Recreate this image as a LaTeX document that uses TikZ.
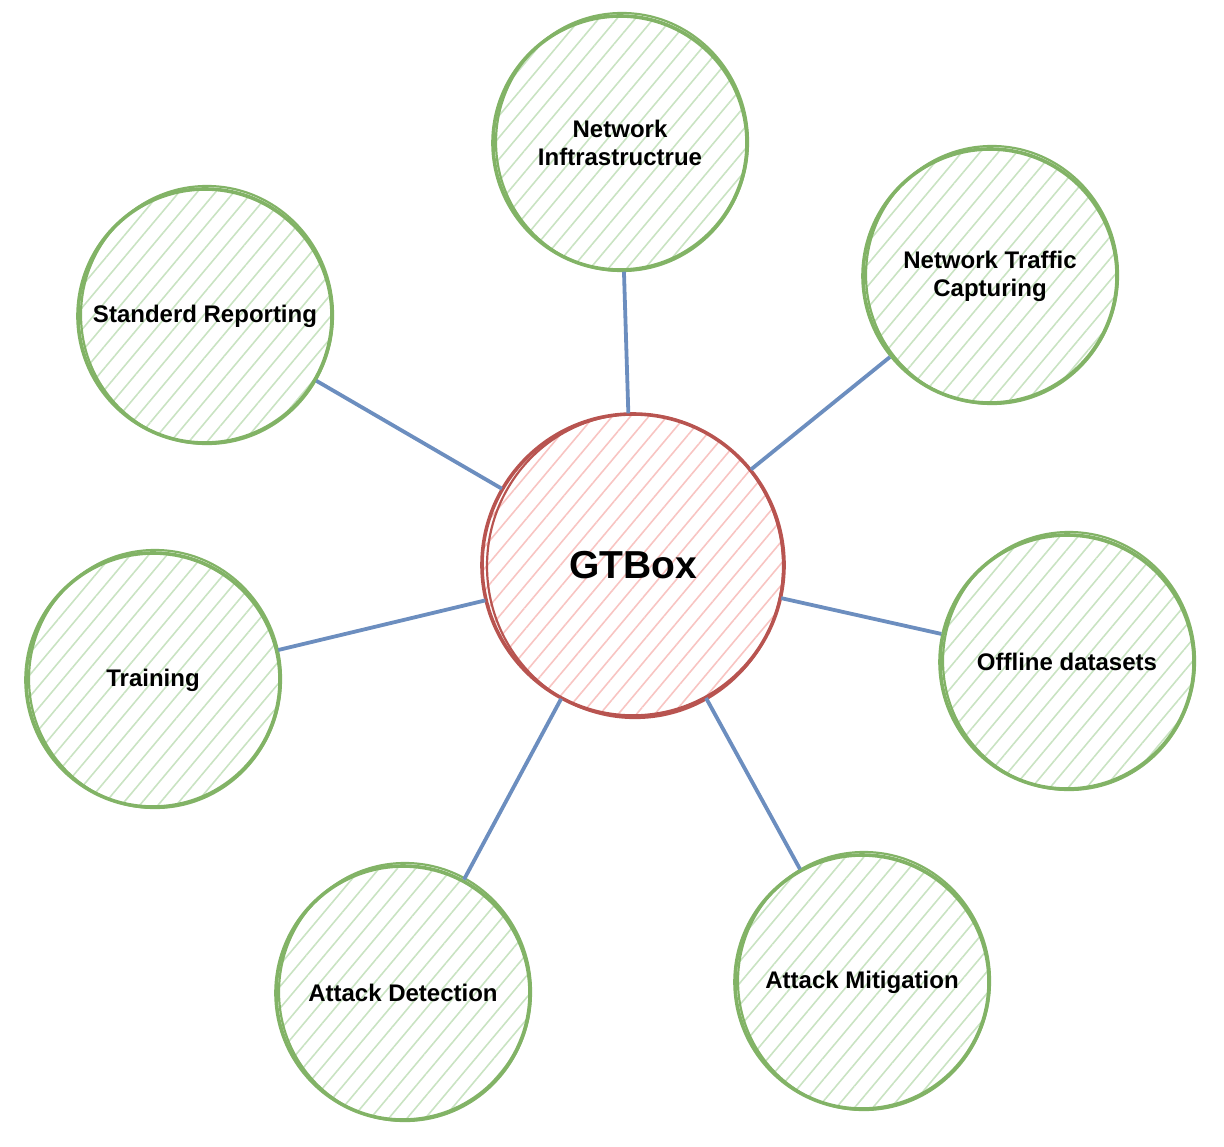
\documentclass[tikz,border=0pt]{standalone}
\usepackage{xcolor}
\usepackage{fontspec}
\setmainfont{Liberation Sans}
\usetikzlibrary{patterns.meta}

\definecolor{leafgreen}{HTML}{82B366}
\definecolor{hatchgreen}{HTML}{C9E3C2}
\definecolor{hubred}{HTML}{B85450}
\definecolor{hatchred}{HTML}{F8C4C2}
\definecolor{linkblue}{HTML}{6C8EBF}

\begin{document}
\begin{tikzpicture}[x=0.5pt, y=-0.5pt,
    leaf/.style={circle, minimum size=127pt, inner sep=1pt, draw=leafgreen, line width=1.8pt,
        pattern={Lines[angle=50, distance=7pt, line width=0.8pt]}, pattern color=hatchgreen,
        align=center, font=\bfseries\fontsize{12}{14}\selectfont},
    hub/.style={circle, minimum size=151pt, inner sep=1pt, draw=hubred, line width=1.8pt,
        pattern={Lines[angle=50, distance=7pt, line width=0.8pt]}, pattern color=hatchred,
        font=\bfseries\fontsize{19.5}{22}\selectfont},
    leafline/.style={draw=leafgreen, line width=1.1pt},
    hubline/.style={draw=hubred, line width=1.1pt},
    link/.style={draw=linkblue, line width=1.9pt}]
    \useasboundingbox (0,0) rectangle (1224,1146);

    \node (gtbox) at (633,565) [hub] {GTBox};
    \node (infra) at (620,143) [leaf] {Network\\Inftrastructrue};
    \node (traffic) at (990,276) [leaf] {Network Traffic\\Capturing};
    \node (report) at (205,316) [leaf] {Standerd Reporting};
    \node (train) at (153,680) [leaf] {Training};
    \node (offline) at (1067,662) [leaf] {Offline datasets};
    \node (detect) at (403,993) [leaf] {Attack Detection};
    \node (mitig) at (862,982) [leaf] {Attack Mitigation};

    % second rough stroke round each circle
    \foreach \n in {infra,traffic,report,train,offline,detect,mitig}
        \draw[leafline] ([shift={(2,-1)}]\n.center) ellipse [x radius=126, y radius=129];
    \draw[hubline] ([shift={(2,1)}]gtbox.center) ellipse [x radius=148, y radius=152];

    \foreach \n in {infra,traffic,report,train,offline,detect,mitig}
        \draw[link] (gtbox) -- (\n);
\end{tikzpicture}
\end{document}
